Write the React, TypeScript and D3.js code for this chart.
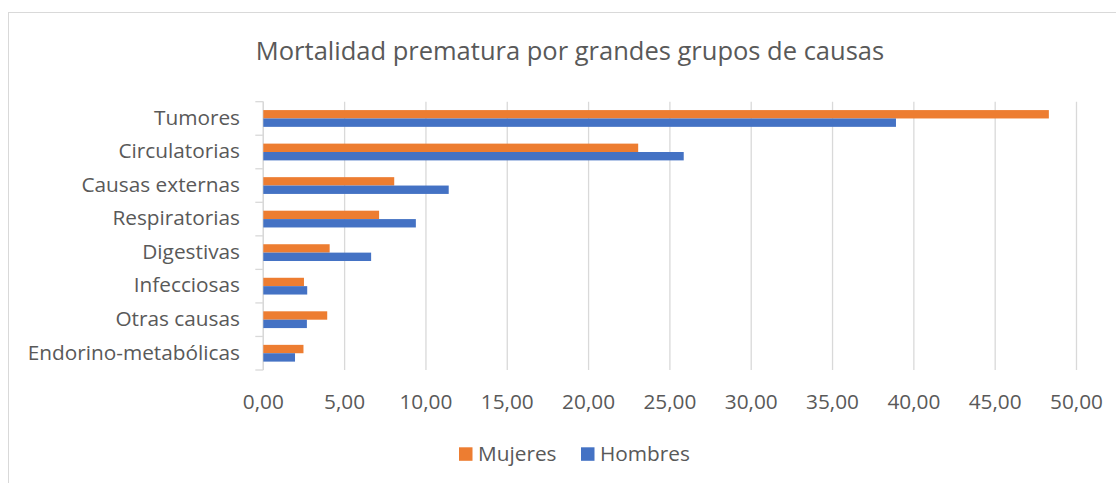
import React from "react";
import * as d3 from "d3";

const categories = [
  "Tumores",
  "Circulatorias",
  "Causas externas",
  "Respiratorias",
  "Digestivas",
  "Infecciosas",
  "Otras causas",
  "Endorino-metabólicas",
];
const mujeres = [48.3, 23.05, 8.05, 7.12, 4.08, 2.5, 3.93, 2.47];
const hombres = [38.9, 25.85, 11.4, 9.38, 6.63, 2.7, 2.68, 1.95];
const seriesNames = ["Mujeres", "Hombres"];
const seriesColors = ["#ED7D31", "#4472C4"];
const xTicks = [0, 5, 10, 15, 20, 25, 30, 35, 40, 45, 50];
const title = "Mortalidad prematura por grandes grupos de causas";

const W = 1116;
const H = 483;
const FONT = "'Open Sans', sans-serif";
const TEXT = "#595959";
const GRID = "#d9d9d9";
const FS = 20.8;

export default function App() {
  const left = 263.3;
  const right = 1076.5;
  const top = 101.7;
  const bottom = 370;
  const x = d3.scaleLinear().domain([0, 50]).range([left, right]);
  const y = d3.scaleBand<string>().domain(categories).range([top, bottom]).paddingInner(0).paddingOuter(0);
  const bw = y.bandwidth();
  const inner = d3.scaleBand<string>().domain(seriesNames).range([bw / 4, (bw * 3) / 4]);
  const fmt = (v: number) => d3.format(".2f")(v).replace(".", ",");
  const data = [mujeres, hombres];

  return (
    <svg width={W} height={H} style={{ position: "absolute", left: 0, top: 0, background: "#fff" }}>
      <rect x={8.5} y={12.5} width={W + 10} height={H + 10} fill="#fff" stroke={GRID} strokeWidth={1} />
      <text x={570} y={60} textAnchor="middle" fontFamily={FONT} fontSize={25.5} fill={TEXT}>
        {title}
      </text>
      {xTicks.map((t) => (
        <line key={"g" + t} x1={x(t)} x2={x(t)} y1={top} y2={bottom} stroke={GRID} strokeWidth={1.3} />
      ))}
      <line x1={left} x2={left} y1={top} y2={bottom} stroke={GRID} strokeWidth={1.3} />
      {d3.range(categories.length + 1).map((i) => {
        const yy = top + i * bw;
        return <line key={"t" + i} x1={left - 8} x2={left} y1={yy} y2={yy} stroke={GRID} strokeWidth={1.3} />;
      })}
      {categories.map((c, i) => (
        <g key={c}>
          {data.map((arr, s) => (
            <rect
              key={s}
              x={x(0)}
              y={(y(c) as number) + (inner(seriesNames[s]) as number)}
              width={x(arr[i]) - x(0)}
              height={inner.bandwidth()}
              fill={seriesColors[s]}
            />
          ))}
          <text
            x={240}
            y={(y(c) as number) + bw / 2 - 1}
            dy="0.35em"
            textAnchor="end"
            fontFamily={FONT}
            fontSize={FS}
            fill={TEXT}
          >
            {c}
          </text>
        </g>
      ))}
      {xTicks.map((t) => (
        <text key={"l" + t} x={x(t)} y={409} textAnchor="middle" fontFamily={FONT} fontSize={FS} fill={TEXT}>
          {fmt(t)}
        </text>
      ))}
      {seriesNames.map((n, i) => {
        const lx = [459, 581][i];
        return (
          <g key={n}>
            <rect x={lx} y={447.3} width={13.5} height={13.5} fill={seriesColors[i]} />
            <text x={lx + 19} y={461} fontFamily={FONT} fontSize={FS} fill={TEXT}>
              {n}
            </text>
          </g>
        );
      })}
    </svg>
  );
}
